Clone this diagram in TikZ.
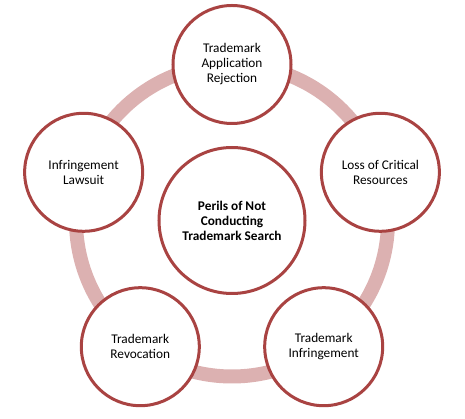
\documentclass[tikz,border=0pt]{standalone}
\usepackage{fontspec}
\setmainfont{Carlito}
\definecolor{rim}{RGB}{169,67,66}
\definecolor{band}{RGB}{220,177,177}
\newcommand{\lbl}{\fontsize{13.3}{15}\selectfont}

\begin{document}
\begin{tikzpicture}[x=1pt,y=1pt,
   peril/.style={circle,draw=rim,fill=white,line width=3pt,minimum size=118pt,
      align=center,inner sep=0pt,font=\lbl},
   hub/.style={peril,minimum size=146pt,font=\lbl\bfseries}]
   \useasboundingbox (-232,-198.5) rectangle (233,220.5);
   \draw[band,line width=14pt] (0,0) circle (156);
   \node[hub] (perils) at (0,0) {Perils of Not\\Conducting\\Trademark Search};
   \node[peril] (rejection) at (90:156) {Trademark\\Application\\Rejection};
   \node[peril] (loss) at (18:156) {Loss of Critical\\Resources};
   \node[peril] (infringement) at (-54:156) {Trademark\\Infringement};
   \node[peril] (revocation) at (234:156) {Trademark\\Revocation};
   \node[peril] (lawsuit) at (162:156) {Infringement\\Lawsuit};
  \end{tikzpicture}
\end{document}
